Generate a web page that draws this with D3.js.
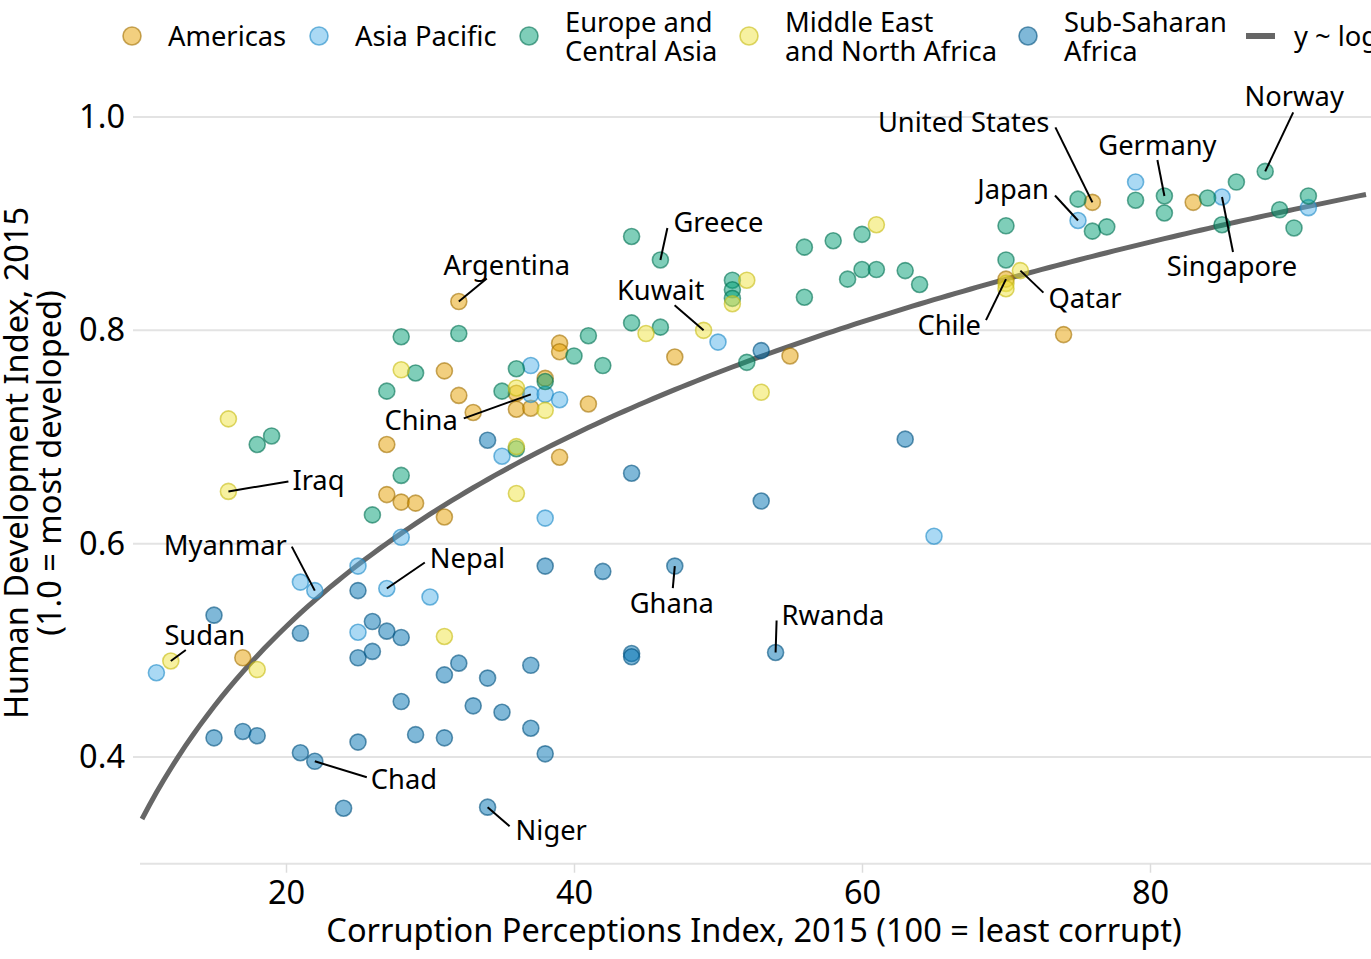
<!DOCTYPE html>
<html><head><meta charset="utf-8">
<script src="https://cdn.jsdelivr.net/npm/d3@7"></script>
<style>body{margin:0;background:#fff;overflow:hidden} text{font-family:"Noto Sans",sans-serif;fill:#000}</style>
</head><body><svg id="c" width="1371" height="959"></svg>
<script>
// ---------------- data ----------------
const regions = ["Americas","Asia Pacific","Europe and Central Asia","Middle East and North Africa","Sub-Saharan Africa"];
const regionColors = ["#E69F00","#56B4E9","#009E73","#F0E442","#0072B2"];
const legendLines = [["Americas"],["Asia Pacific"],["Europe and","Central Asia"],["Middle East","and North Africa"],["Sub-Saharan","Africa"]];
const fitLabel = "y ~ log(x)";

// [CPI 2015, HDI 2015]
const americas = [[17,0.493],[27,0.693],[27,0.646],[28,0.639],[29,0.638],[31,0.625],[31,0.762],[32,0.827],[32,0.739],[33,0.723],[36,0.741],[36,0.726],[37,0.727],[38,0.755],[39,0.788],[39,0.780],[39,0.681],[41,0.731],[47,0.775],[55,0.776],[70,0.848],[74,0.796],[76,0.920],[83,0.920]];
const asiaPacific = [[11,0.479],[21,0.564],[22,0.556],[25,0.579],[25,0.517],[27,0.558],[28,0.606],[30,0.550],[35,0.682],[37,0.767],[37,0.740],[38,0.740],[38,0.624],[39,0.735],[50,0.789],[65,0.607],[75,0.903],[79,0.939],[85,0.925],[91,0.915]];
const europeCentralAsia = [[18,0.693],[19,0.701],[26,0.627],[27,0.743],[28,0.794],[28,0.664],[29,0.760],[32,0.797],[35,0.743],[36,0.764],[36,0.689],[38,0.752],[40,0.776],[41,0.795],[42,0.767],[44,0.888],[44,0.807],[46,0.866],[46,0.803],[51,0.847],[51,0.838],[51,0.830],[52,0.770],[56,0.878],[56,0.831],[58,0.884],[59,0.848],[60,0.890],[60,0.857],[61,0.857],[63,0.856],[64,0.843],[70,0.898],[70,0.866],[75,0.923],[76,0.893],[77,0.897],[79,0.922],[81,0.926],[81,0.910],[84,0.924],[85,0.899],[86,0.939],[88,0.949],[89,0.913],[90,0.896],[91,0.926]];
const middleEastNorthAfrica = [[12,0.490],[16,0.717],[16,0.649],[18,0.482],[28,0.763],[31,0.513],[36,0.746],[36,0.691],[36,0.647],[38,0.725],[45,0.797],[49,0.800],[51,0.825],[52,0.847],[53,0.742],[61,0.899],[70,0.844],[70,0.839],[71,0.856]];
const subSaharanAfrica = [[15,0.533],[15,0.418],[17,0.424],[18,0.420],[21,0.516],[21,0.404],[22,0.396],[24,0.352],[25,0.556],[25,0.493],[25,0.414],[26,0.527],[26,0.499],[27,0.518],[28,0.512],[28,0.452],[29,0.421],[31,0.477],[31,0.418],[32,0.488],[33,0.448],[34,0.474],[34,0.353],[34,0.697],[35,0.442],[37,0.486],[37,0.427],[38,0.579],[38,0.403],[42,0.574],[44,0.666],[44,0.497],[44,0.494],[47,0.579],[53,0.781],[53,0.640],[54,0.498],[63,0.698]];
const seriesByRegion = [americas, asiaPacific, europeCentralAsia, middleEastNorthAfrica, subSaharanAfrica];

const xTicks = [20,40,60,80];
const yTicks = [0.4,0.6,0.8,1.0];
const xTitle = "Corruption Perceptions Index, 2015 (100 = least corrupt)";
const yTitle = ["Human Development Index, 2015","(1.0 = most developed)"];

const labelNames = ["Norway","United States","Germany","Japan","Singapore","Qatar","Chile","Greece","Kuwait","Argentina","China","Iraq","Myanmar","Nepal","Sudan","Chad","Niger","Ghana","Rwanda"];
const labelCpi   = [88,76,81,75,85,71,70,46,49,32,37,16,22,27,12,22,34,47,54];
const labelHdi   = [0.949,0.920,0.926,0.903,0.925,0.856,0.848,0.866,0.800,0.827,0.740,0.649,0.556,0.558,0.490,0.396,0.353,0.579,0.498];

// ---------------- layout (label placement, px offsets) ----------------
const labelLayout = {
  "Norway":        {dx:29, dy:-65, a:"middle", lx:28, ly:-59},
  "United States": {dx:-43,dy:-70, a:"end",    lx:-37,ly:-75},
  "Germany":       {dx:-7, dy:-41, a:"middle", lx:-7, ly:-36},
  "Japan":         {dx:-29,dy:-21, a:"end",    lx:-23,ly:-25},
  "Singapore":     {dx:10, dy:79,  a:"middle", lx:11, ly:55},
  "Qatar":         {dx:28, dy:37,  a:"start",  lx:23, ly:22},
  "Chile":         {dx:-25,dy:56,  a:"end",    lx:-20,ly:41},
  "Greece":        {dx:13, dy:-28, a:"start",  lx:7,  ly:-32},
  "Kuwait":        {dx:-43,dy:-30, a:"middle", lx:-29,ly:-25},
  "Argentina":     {dx:48, dy:-27, a:"middle", lx:28, ly:-23},
  "China":         {dx:-73,dy:36,  a:"end",    lx:-67,ly:24},
  "Iraq":          {dx:64, dy:-1,  a:"start",  lx:60, ly:-10},
  "Myanmar":       {dx:-28,dy:-36, a:"end",    lx:-23,ly:-44},
  "Nepal":         {dx:43, dy:-20, a:"start",  lx:38, ly:-26},
  "Sudan":         {dx:34, dy:-16, a:"middle", lx:15, ly:-11},
  "Chad":          {dx:56, dy:28,  a:"start",  lx:52, ly:16},
  "Niger":         {dx:28, dy:33,  a:"start",  lx:22, ly:19},
  "Ghana":         {dx:-3, dy:47,  a:"middle", lx:-2, ly:22},
  "Rwanda":        {dx:6,  dy:-27, a:"start",  lx:1,  ly:-32}
};
const axisFont = 32.5, labelFont = 27.3;

const svg = d3.select("#c");
const x = d3.scaleLinear().domain([10,95]).range([142,1366]);
const y = d3.scaleLinear().domain([0.3,1.0]).range([863.7,117]);
const color = d3.scaleOrdinal().domain(regions).range(regionColors);
const darken = c => { const h = d3.hsl(c); h.l *= 0.7; return h.formatHex(); };

// grid
svg.append("g").selectAll("line").data(yTicks).join("line")
  .attr("x1",133).attr("x2",1371).attr("y1",d=>y(d)).attr("y2",d=>y(d))
  .attr("stroke","#e3e3e3").attr("stroke-width",2);
svg.append("line").attr("x1",140).attr("x2",1371).attr("y1",863.7).attr("y2",863.7)
  .attr("stroke","#e3e3e3").attr("stroke-width",2);
// bottom axis
const xa = svg.append("g").attr("transform","translate(0,863.7)")
  .call(d3.axisBottom(x).tickValues(xTicks).tickFormat(d3.format("d")).tickSize(9).tickPadding(8));
xa.select(".domain").remove();
xa.selectAll(".tick line").attr("stroke","#dcdcdc").attr("stroke-width",1.5);
xa.selectAll(".tick text").attr("font-size",axisFont).attr("font-family","Noto Sans").attr("fill","#000");
// y axis
const ya = svg.append("g").attr("transform","translate(133,0)")
  .call(d3.axisLeft(y).tickValues(yTicks).tickFormat(d3.format(".1f")).tickSize(0).tickPadding(8));
ya.select(".domain").remove();
ya.selectAll(".tick text").attr("font-size",axisFont).attr("font-family","Noto Sans").attr("fill","#000");

// titles
svg.append("text").attr("x",754).attr("y",942).attr("text-anchor","middle").attr("font-size",axisFont).text(xTitle);
const yt = svg.append("text").attr("transform","translate(0,463) rotate(-90)").attr("text-anchor","middle").attr("font-size",axisFont);
yt.append("tspan").attr("x",0).attr("y",28).text(yTitle[0]);
yt.append("tspan").attr("x",0).attr("y",61).text(yTitle[1]);

// fit y ~ log(x) from the data (least squares)
const all = seriesByRegion.flat();
const mx = d3.mean(all,d=>Math.log(d[0])), my = d3.mean(all,d=>d[1]);
const b = d3.sum(all,d=>(Math.log(d[0])-mx)*(d[1]-my)) / d3.sum(all,d=>(Math.log(d[0])-mx)**2);
const a0 = my - b*mx;
const fitX = d3.range(10,95.01,0.5);
svg.append("path").datum(fitX)
  .attr("d", d3.line().x(d=>x(d)).y(d=>y(a0+b*Math.log(d))))
  .attr("fill","none").attr("stroke","#666").attr("stroke-width",5);

// points
const pts = [];
seriesByRegion.forEach((s,i)=>s.forEach(p=>pts.push({cpi:p[0],hdi:p[1],region:regions[i]})));
svg.append("g").selectAll("circle").data(pts).join("circle")
  .attr("cx",d=>x(d.cpi)).attr("cy",d=>y(d.hdi)).attr("r",8)
  .attr("fill",d=>color(d.region)).attr("fill-opacity",0.5)
  .attr("stroke",d=>darken(color(d.region))).attr("stroke-opacity",0.6).attr("stroke-width",1.6);

// labels
const labs = labelNames.map((n,i)=>({name:n,cpi:labelCpi[i],hdi:labelHdi[i],...labelLayout[n]}));
const lg = svg.append("g");
lg.selectAll("line").data(labs).join("line")
  .attr("x1",d=>x(d.cpi)).attr("y1",d=>y(d.hdi))
  .attr("x2",d=>x(d.cpi)+d.lx).attr("y2",d=>y(d.hdi)+d.ly)
  .attr("stroke","#000").attr("stroke-width",2);
lg.selectAll("text").data(labs).join("text")
  .attr("x",d=>x(d.cpi)+d.dx).attr("y",d=>y(d.hdi)+d.dy)
  .attr("text-anchor",d=>d.a).attr("font-size",labelFont).text(d=>d.name);

// legend
const legX = [132,319,529,749,1028];
const leg = svg.append("g");
regions.forEach((r,i)=>{
  const g = leg.append("g");
  g.append("circle").attr("cx",legX[i]).attr("cy",36).attr("r",9)
    .attr("fill",color(r)).attr("fill-opacity",0.5)
    .attr("stroke",darken(color(r))).attr("stroke-opacity",0.6).attr("stroke-width",1.6);
  const lines = legendLines[i];
  const t = g.append("text").attr("font-size",labelFont);
  lines.forEach((s,j)=>{
    const cy = lines.length===1 ? 36 : (j===0 ? 22 : 51);
    t.append("tspan").attr("x",legX[i]+36).attr("y",cy).attr("dy","0.35em").text(s);
  });
});
leg.append("line").attr("x1",1246).attr("x2",1275).attr("y1",36).attr("y2",36).attr("stroke","#666").attr("stroke-width",6);
leg.append("text").attr("x",1294).attr("y",36).attr("dy","0.35em").attr("font-size",labelFont).text(fitLabel);
</script></body></html>
